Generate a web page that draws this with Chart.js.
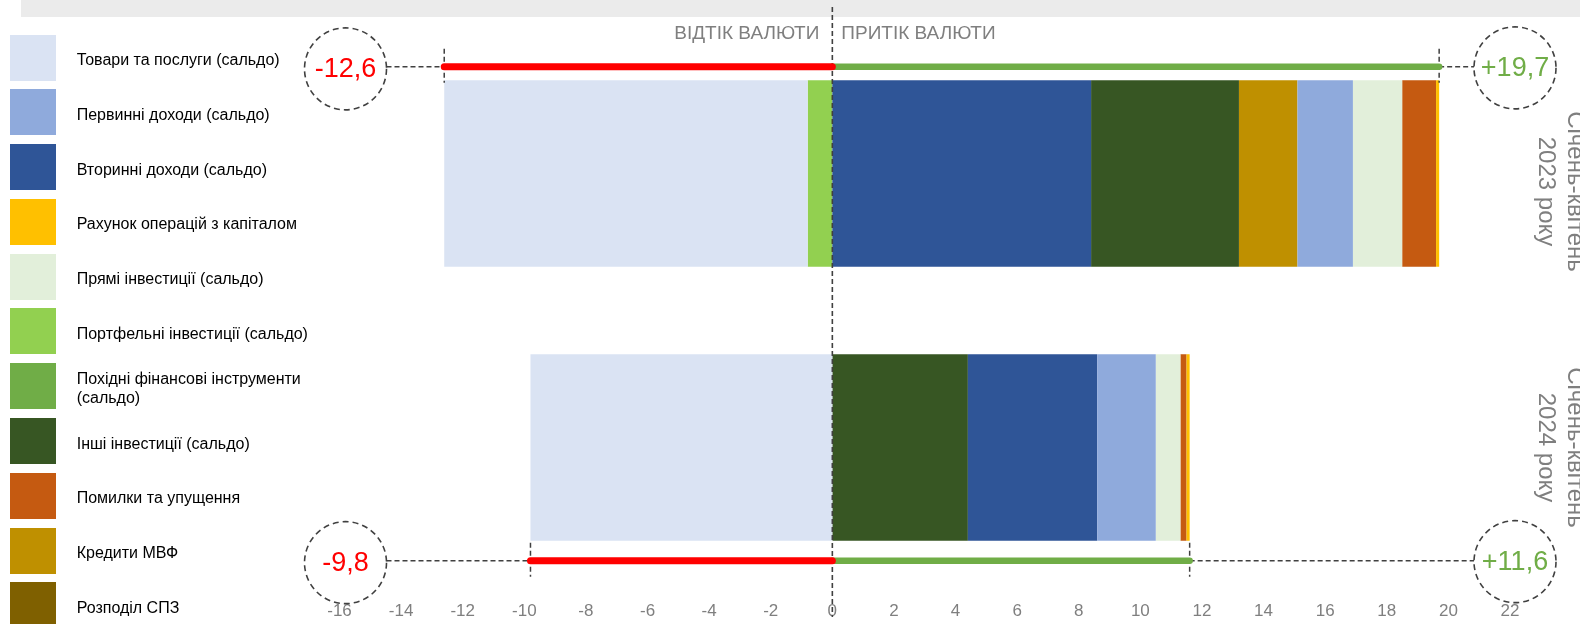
<!DOCTYPE html>
<html>
<head>
<meta charset="utf-8">
<script src="https://cdn.jsdelivr.net/npm/chart.js@4.4.1/dist/chart.umd.min.js"></script>
<style>
  html, body { margin: 0; padding: 0; background: #fff; }
  #wrap { position: relative; width: 1580px; height: 624px; overflow: hidden; font-family: "Liberation Sans", Arial, sans-serif; }
  #band { position: absolute; left: 21px; top: 0; right: 0; height: 17px; background: #ebebeb; }
  #grafico { position: absolute; left: 0; top: 0; }
  #legenda { position: absolute; left: 10px; top: 34.5px; }
  .item { display: flex; align-items: center; height: 46px; margin-bottom: 8.8px; }
  .sw { width: 46px; height: 46px; flex: none; }
  .lbl { margin-left: 20.7px; margin-top: 4px; font-size: 16px; line-height: 19px; color: #000; max-width: 240px; }
</style>
</head>
<body>
<div id="wrap">
  <div id="band"></div>
  <canvas id="grafico" width="1580" height="624"></canvas>
  <div id="legenda"></div>
</div>
<script>
// categorias (eixo vertical)
const categories = ["Січень-квітень 2023 року", "Січень-квітень 2024 року"];

// séries
const seriesNames = [
  "Товари та послуги (сальдо)",
  "Первинні доходи (сальдо)",
  "Вторинні доходи (сальдо)",
  "Рахунок операцій з капіталом",
  "Прямі інвестиції (сальдо)",
  "Портфельні інвестиції (сальдо)",
  "Похідні фінансові інструменти (сальдо)",
  "Інші інвестиції (сальдо)",
  "Помилки та упущення",
  "Кредити МВФ",
  "Розподіл СПЗ"
];

// valores, млрд дол. [2023, 2024]
const goodsServices = [-11.8, -9.8];
const primaryIncome = [1.8, 1.9];
const secondaryIncome = [8.4, 4.2];
const capitalAccount = [0.1, 0.1];
const directInvest = [1.6, 0.8];
const portfolioInvest = [-0.8, 0];
const derivatives = [0, 0];
const otherInvest = [4.8, 4.4];
const errorsOmissions = [1.1, 0.2];
const imfLoans = [1.9, 0];
const sdrAllocation = [0, 0];

// totais (setas)
const outflowTotal = [-12.6, -9.8];
const inflowTotal = [19.7, 11.6];

// eixo x
const xMin = -16;
const xMax = 22;
const xStep = 2;

const seriesValues = [
  goodsServices, primaryIncome, secondaryIncome, capitalAccount, directInvest,
  portfolioInvest, derivatives, otherInvest, errorsOmissions, imfLoans, sdrAllocation
];

// cores
const cores = [
  "#dae3f3", "#8faadc", "#2f5597", "#ffc000", "#e2efda",
  "#92d050", "#70ad47", "#375623", "#c55a11", "#bf9000", "#7f6000"
];

const FONTE = '"Liberation Sans", Arial, sans-serif';
const BAR_PCT = 0.68;

// legenda
const legenda = document.getElementById("legenda");
seriesNames.forEach((nome, i) => {
  const div = document.createElement("div");
  div.className = "item";
  div.innerHTML = `<div class="sw" style="background:${cores[i]}"></div><div class="lbl">${nome}</div>`;
  legenda.appendChild(div);
});

// empilhamento: positivos do maior para o menor, negativos do menor para o maior
function montarFaixas() {
  const faixas = seriesValues.map(() => categories.map(() => null));
  categories.forEach((c, j) => {
    const idx = seriesValues.map((v, i) => i);
    const pos = idx.filter(i => seriesValues[i][j] > 0)
      .sort((a, b) => seriesValues[b][j] - seriesValues[a][j]);
    const neg = idx.filter(i => seriesValues[i][j] < 0)
      .sort((a, b) => seriesValues[b][j] - seriesValues[a][j]);
    let s = 0;
    pos.forEach(i => { faixas[i][j] = [s, s + seriesValues[i][j]]; s += seriesValues[i][j]; });
    s = 0;
    neg.forEach(i => { faixas[i][j] = [s + seriesValues[i][j], s]; s += seriesValues[i][j]; });
  });
  return faixas;
}

const faixas = montarFaixas();

function fmt(v, sinal) {
  const t = Math.abs(v).toFixed(1).replace(".", ",");
  return (v < 0 ? "-" : (sinal ? "+" : "")) + t;
}

function tracejada(ctx, x1, y1, x2, y2, dash, w) {
  ctx.save();
  ctx.strokeStyle = "#404040";
  ctx.lineWidth = w || 1.5;
  ctx.setLineDash(dash || [5, 3]);
  ctx.beginPath();
  ctx.moveTo(x1, y1);
  ctx.lineTo(x2, y2);
  ctx.stroke();
  ctx.restore();
}

function seta(ctx, x0, x1, y, cor, w) {
  ctx.save();
  ctx.strokeStyle = cor;
  ctx.lineWidth = w;
  ctx.lineCap = "round";
  ctx.beginPath();
  ctx.moveTo(x0, y);
  ctx.lineTo(x1, y);
  ctx.stroke();
  ctx.restore();
}

function circulo(ctx, cx, cy, texto, cor) {
  ctx.save();
  ctx.beginPath();
  ctx.arc(cx, cy, 41, 0, Math.PI * 2);
  ctx.fillStyle = "#fff";
  ctx.fill();
  ctx.strokeStyle = "#404040";
  ctx.lineWidth = 1.6;
  ctx.setLineDash([6, 4]);
  ctx.stroke();
  ctx.setLineDash([]);
  ctx.fillStyle = cor;
  ctx.font = "27px " + FONTE;
  ctx.textAlign = "center";
  ctx.textBaseline = "middle";
  ctx.fillText(texto, cx, cy + 1);
  ctx.restore();
}

//  anotações
const anotacoes = {
  id: "anotacoes",
  afterDatasetsDraw(chart) {
    const ctx = chart.ctx;
    const x = chart.scales.x;
    const y = chart.scales.y;
    const area = chart.chartArea;
    const x0 = x.getPixelForValue(0);
    const banda = y.getPixelForValue(1) - y.getPixelForValue(0);
    const meia = banda * BAR_PCT / 2;

    // linha do zero
    tracejada(ctx, x0, 7, x0, 617, [5, 3], 1.6);

    // títulos
    ctx.save();
    ctx.fillStyle = "#7f7f7f";
    ctx.font = "19px " + FONTE;
    ctx.textBaseline = "middle";
    ctx.textAlign = "right";
    ctx.fillText("ВІДТІК ВАЛЮТИ", x0 - 13, 34);
    ctx.textAlign = "left";
    ctx.fillText("ПРИТІК ВАЛЮТИ", x0 + 9, 34);
    ctx.restore();

    const desloc = [18, 0];

    categories.forEach((cat, i) => {
      const cy = y.getPixelForValue(i);
      const ay = i === 0 ? cy - meia - 13.5 : cy + meia + 20;
      const xn = x.getPixelForValue(outflowTotal[i]);
      const xp = x.getPixelForValue(inflowTotal[i]);
      const cxL = area.left + 6;
      const cxR = area.right + 5;

      tracejada(ctx, cxL + 41, ay, xn, ay);
      tracejada(ctx, xp, ay, cxR - 41, ay);
      tracejada(ctx, xn, ay - 18, xn, ay + 16);
      tracejada(ctx, xp, ay - 18, xp, ay + 16);

      seta(ctx, x0, xp, ay, "#70ad47", 6.5);
      seta(ctx, x0, xn, ay, "#ff0000", 7);

      circulo(ctx, cxL, ay + 2, fmt(outflowTotal[i], false), "#ff0000");
      circulo(ctx, cxR, ay + 1, fmt(inflowTotal[i], true), "#70ad47");

      // rótulo da categoria, girado
      const partes = cat.split(" ");
      const l1 = partes[0];
      const l2 = partes.slice(1).join(" ");
      ctx.save();
      ctx.translate(1560, cy + desloc[i]);
      ctx.rotate(Math.PI / 2);
      ctx.fillStyle = "#7f7f7f";
      ctx.font = "24px " + FONTE;
      ctx.textAlign = "center";
      ctx.textBaseline = "middle";
      ctx.fillText(l1, 0, -15);
      ctx.fillText(l2, 0, 14);
      ctx.restore();
    });
  }
};

Chart.defaults.font.family = FONTE;

new Chart(document.getElementById("grafico"), {
  type: "bar",
  data: {
    labels: categories,
    datasets: seriesNames.map((nome, i) => ({
      label: nome,
      data: faixas[i],
      backgroundColor: cores[i],
      borderWidth: 0,
      grouped: false,
      barPercentage: BAR_PCT,
      categoryPercentage: 1
    }))
  },
  options: {
    indexAxis: "y",
    responsive: false,
    animation: false,
    layout: { padding: { top: 36.5, left: 339.5, right: 70, bottom: 2 } },
    plugins: {
      legend: { display: false },
      tooltip: { enabled: false }
    },
    scales: {
      x: {
        min: xMin,
        max: xMax,
        grid: { display: false, drawTicks: false },
        border: { display: false },
        ticks: {
          stepSize: xStep,
          color: "#7f7f7f",
          font: { size: 17 },
          padding: 17,
          maxRotation: 0,
          autoSkip: false,
          callback: v => String(v)
        },
        afterFit(scale) {
          scale.height = 37.5;
        }
      },
      y: {
        display: false,
        grid: { display: false }
      }
    }
  },
  plugins: [anotacoes]
});
</script>
</body>
</html>
